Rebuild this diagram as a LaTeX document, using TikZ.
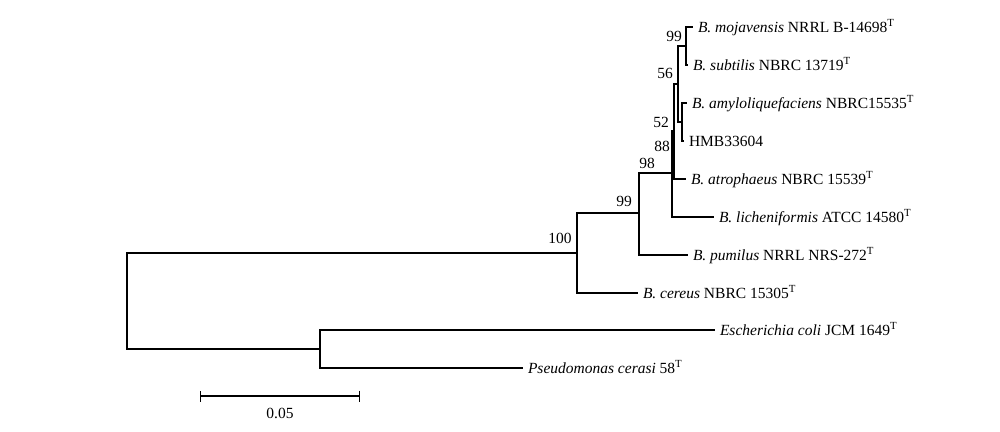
\documentclass[tikz,border=0pt]{standalone}
\usepackage{fontspec}
\setmainfont{Liberation Serif}
\usetikzlibrary{arrows.meta}
\tikzset{
  branch/.style={line width=0.7pt},
  leaf/.style={anchor=base west, inner sep=0pt, xshift=2.3pt, yshift=-2.6pt},
  boot/.style={inner sep=0pt},
}
\newcommand{\typestrain}{\textsuperscript{T}}

\begin{document}
\begin{tikzpicture}[x=0.5pt,y=-0.5pt,font=\fontsize{7.75}{9}\selectfont]
        \useasboundingbox (0,0) rectangle (1000,432);

        % tips
        \coordinate (moj) at (693,27);
        \coordinate (sub) at (688,65);
        \coordinate (amy) at (687,103);
        \coordinate (hmb) at (684,141);
        \coordinate (atr) at (686,179);
        \coordinate (lic) at (714,217);
        \coordinate (pum) at (688,255);
        \coordinate (cer) at (638,293);
        \coordinate (eco) at (715,330);
        \coordinate (pse) at (523,368);

        % inner nodes
        \coordinate (n99a) at (686,46);
        \coordinate (n52) at (682,122);
        \coordinate (n56) at (678,84);
        \coordinate (n88) at (674,131);
        \coordinate (n98) at (672,173);
        \coordinate (n99b) at (639,213);
        \coordinate (n100) at (577,253);
        \coordinate (nep) at (320,349);
        \coordinate (root) at (127,301);

        \draw[branch] (n99a) |- (moj);
        \draw[branch] (n99a) |- (sub);
        \draw[branch] (n52) |- (amy);
        \draw[branch] (n52) |- (hmb);
        \draw[branch] (n56) |- (n99a);
        \draw[branch] (n56) |- (n52);
        \draw[branch] (n88) |- (n56);
        \draw[branch] (n88) |- (atr);
        \draw[branch] (n98) |- (n88);
        \draw[branch] (n98) |- (lic);
        \draw[branch] (n99b) |- (n98);
        \draw[branch] (n99b) |- (pum);
        \draw[branch] (n100) |- (n99b);
        \draw[branch] (n100) |- (cer);
        \draw[branch] (nep) |- (eco);
        \draw[branch] (nep) |- (pse);
        \draw[branch] (root) |- (n100);
        \draw[branch] (root) |- (nep);

        \node[leaf] (lmoj) at (moj) {\textit{B. mojavensis} NRRL B-14698\typestrain};
        \node[leaf] (lsub) at (sub) {\textit{B. subtilis} NBRC 13719\typestrain};
        \node[leaf] (lamy) at (amy) {\textit{B. amyloliquefaciens} NBRC15535\typestrain};
        \node[leaf] (lhmb) at (hmb) {HMB33604};
        \node[leaf] (latr) at (atr) {\textit{B. atrophaeus} NBRC 15539\typestrain};
        \node[leaf] (llic) at (lic) {\textit{B. licheniformis} ATCC 14580\typestrain};
        \node[leaf] (lpum) at (pum) {\textit{B. pumilus} NRRL NRS-272\typestrain};
        \node[leaf] (lcer) at (cer) {\textit{B. cereus} NBRC 15305\typestrain};
        \node[leaf] (leco) at (eco) {\textit{Escherichia coli} JCM 1649\typestrain};
        \node[leaf] (lpse) at (pse) {\textit{Pseudomonas cerasi} 58\typestrain};

        \node[boot] (b99a) at (674,36) {99};
        \node[boot] (b56) at (665,73) {56};
        \node[boot] (b52) at (661,122) {52};
        \node[boot] (b88) at (662,146) {88};
        \node[boot] (b98) at (647,163) {98};
        \node[boot] (b99b) at (624,201) {99};
        \node[boot] (b100) at (560,238) {100};

        % scale bar
        \coordinate (sbl) at (200,396);
        \coordinate (sbr) at (360,396);
        \draw[branch, {Bar[width=5.5pt]}-{Bar[width=5.5pt]}] (sbl) -- (sbr) node[midway, below=5.5pt, inner sep=0pt] (sblab) {0.05};

    \end{tikzpicture}
\end{document}
